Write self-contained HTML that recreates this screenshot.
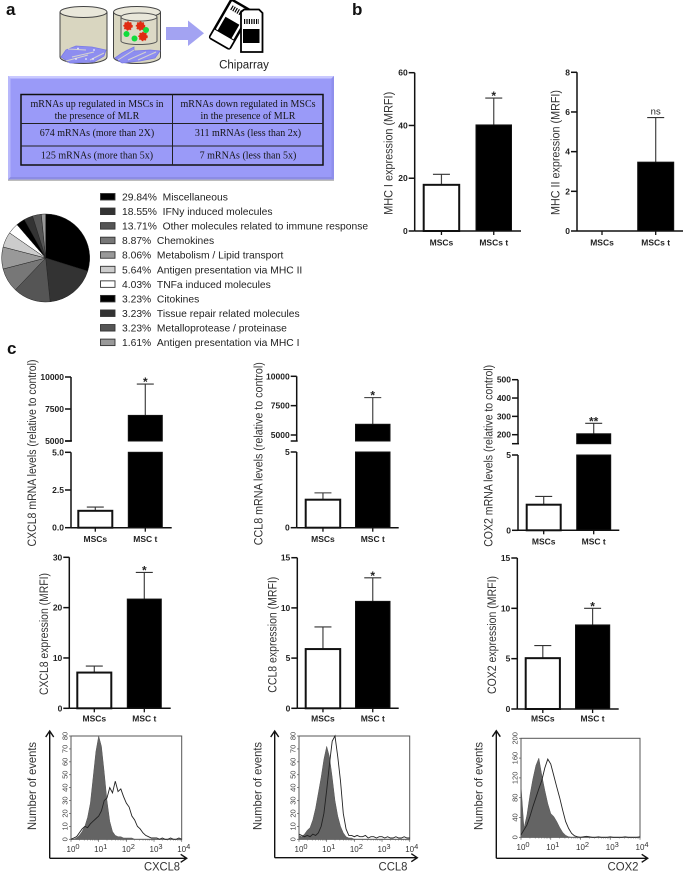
<!DOCTYPE html>
<html lang="en">
<head>
<meta charset="utf-8">
<title>MSC expression figure</title>
<style>
html,body{margin:0;padding:0;background:#fff;}
#figure{display:block;width:684px;height:873px;filter:blur(0.35px);font-family:"Liberation Sans",sans-serif;}
</style>
</head>
<body>
<svg id="figure" xmlns="http://www.w3.org/2000/svg" width="684" height="873" viewBox="0 0 684 873">
  <rect x="0" y="0" width="684" height="873" fill="#fff"/>
  <text x="6" y="15" font-size="17" font-weight="bold" fill="#111">a</text>
  <text x="352" y="15" font-size="17" font-weight="bold" fill="#111">b</text>
  <text x="7" y="354" font-size="17" font-weight="bold" fill="#111">c</text>

  <g>
    <path d="M60 12 V57 A23.5 6.5 0 0 0 107 57 V12 Z" fill="#d9d6c0" stroke="#444" stroke-width="1"/>
    <ellipse cx="83.5" cy="12" rx="23.5" ry="5.5" fill="#e9e7da" stroke="#444" stroke-width="1"/>
    <path d="M61 57 L66 50 L76 46 L92 47 L106 50 L104 56 L94 62 L70 63 Z" fill="#8d8df0" stroke="#7a7ae6" stroke-width="0.8"/>
    <path d="M68 49 L86 50 M72 57 L94 52 M66 61 L88 55 M90 60 L104 53" stroke="#d4d2d0" stroke-width="1"/>
    <circle cx="78" cy="48.500" r="0.900" fill="#eef"/>
    <circle cx="94" cy="50" r="0.900" fill="#eef"/>
    <circle cx="76" cy="59" r="0.900" fill="#eef"/>
    <circle cx="86" cy="59" r="0.900" fill="#eef"/>
    <circle cx="93" cy="59" r="0.900" fill="#eef"/>
  </g>
  <g>
    <path d="M113.5 12 V57 A23.5 6.5 0 0 0 160.5 57 V12 Z" fill="#d9d6c0" stroke="#444" stroke-width="1"/>
    <ellipse cx="137" cy="12" rx="23.5" ry="5.5" fill="#e9e7da" stroke="#444" stroke-width="1"/>
    <path d="M121 17 V41 A18 3.5 0 0 0 157 41 V17 Z" fill="#dcd9c6" stroke="#555" stroke-width="1"/>
    <ellipse cx="139" cy="17" rx="18" ry="4" fill="#e9e7da" stroke="#555" stroke-width="1"/>
    <path d="M115 58 L122 53 L134 47 L134 51 L150 50 L160 51 L155 58 L140 61 L122 63 Z" fill="#8d8df0" stroke="#7a7ae6" stroke-width="0.8"/>
    <path d="M118 60 L134 50 M128 60 L146 52 M138 60 L156 52" stroke="#d4d2d0" stroke-width="1"/>
    <circle cx="128" cy="26" r="4" fill="#e02c12" stroke="#e02c12" stroke-width="1.5" stroke-dasharray="1.5 1.5"/>
    <circle cx="140.500" cy="26" r="4" fill="#e02c12" stroke="#e02c12" stroke-width="1.5" stroke-dasharray="1.5 1.5"/>
    <circle cx="143" cy="36.500" r="4" fill="#e02c12" stroke="#e02c12" stroke-width="1.5" stroke-dasharray="1.5 1.500"/>
    <circle cx="126.500" cy="34" r="3" fill="#10dc3c"/>
    <circle cx="134.500" cy="38.500" r="3" fill="#10dc3c"/>
    <circle cx="146" cy="30" r="3" fill="#10dc3c"/>
  </g>
  <polygon points="166,27 188,27 188,20.500 204,33.300 188,46 188,40 166,40" fill="#a3a3f2"/>
  <g transform="rotate(30 230 24)">
    <rect x="219" y="2" width="23" height="44" rx="2" fill="#fff" stroke="#000" stroke-width="2.500"/>
    <rect x="222.500" y="20" width="16" height="16" fill="#000"/>
    <path d="M223 9 H238" stroke="#000" stroke-width="5" stroke-dasharray="1.200 1.200"/>
    <rect x="219" y="36" width="23" height="10" fill="#fff" stroke="#000" stroke-width="1"/>
  </g>
  <g>
    <path d="M241 12 L244 9.500 H259 L262.500 13 V52 H241 Z" fill="#fff" stroke="#000" stroke-width="1.800"/>
    <rect x="243" y="29" width="16.500" height="14" fill="#000"/>
    <path d="M244 21.500 H259" stroke="#000" stroke-width="5" stroke-dasharray="1.200 1.200"/>
  </g>
  <text x="244" y="68.500" font-size="11.500" text-anchor="middle" fill="#222">Chiparray</text>

  <g>
    <rect x="8" y="76" width="326" height="103.500" fill="#9a9af8"/>
    <polygon points="8,76 334,76 331.500,78.500 10.500,78.500" fill="#c9c9ff"/>
    <polygon points="8,76 10.500,78.500 10.500,177 8,179.500" fill="#b8b8fb"/>
    <polygon points="334,76 331.500,78.500 331.500,177 334,179.500" fill="#8f8fec"/>
    <polygon points="8,179.500 10.500,177 331.500,177 334,179.500" fill="#8c8ce4"/>
    <rect x="8" y="179.500" width="326" height="1.500" fill="#bdbdbd"/>
  </g>
  <g font-family="'Liberation Serif',serif" font-size="10" fill="#151515" text-anchor="middle">
    <rect x="21" y="94.500" width="302" height="70.500" fill="none" stroke="#111" stroke-width="1.500"/>
    <path d="M172.500 94.500 V165 M21 123.500 H323 M21 146 H323" stroke="#222" stroke-width="1" fill="none"/>
    <text x="97" y="106.800">mRNAs up regulated in MSCs in</text>
    <text x="97" y="118.800">the presence of MLR</text>
    <text x="248" y="106.800">mRNAs down regulated in MSCs</text>
    <text x="248" y="118.800">in the presence of MLR</text>
    <text x="97" y="135.800">674 mRNAs (more than 2X)</text>
    <text x="248" y="135.800">311 mRNAs (less than 2x)</text>
    <text x="97" y="158.500">125 mRNAs (more than 5x)</text>
    <text x="248" y="158.500">7 mRNAs (less than 5x)</text>
  </g>
  <g id="plots"></g>
</svg>

<script>
/* ---------- pie data ---------- */
const pieValues = [29.84, 18.55, 13.71, 8.87, 8.06, 5.64, 4.03, 3.23, 3.23, 3.23, 1.61];
const pieCategories = ["Miscellaneous", "IFNy induced molecules", "Other molecules related to immune response", "Chemokines", "Metabolism / Lipid transport", "Antigen presentation via MHC II", "TNFa induced molecules", "Citokines", "Tissue repair related molecules", "Metalloprotease / proteinase", "Antigen presentation via MHC I"];

/* ---------- bar chart data ---------- */
const mhc1Categories = ["MSCs", "MSCs t"];
const mhc1Means = [17.5, 40.2];
const mhc1Errors = [4, 10.2];
const mhc1Ticks = [0, 20, 40, 60];
const mhc1Marks = ["", "*"];

const mhc2Categories = ["MSCs", "MSCs t"];
const mhc2Means = [0, 3.47];
const mhc2Errors = [0, 2.25];
const mhc2Ticks = [0, 2, 4, 6, 8];
const mhc2Marks = ["", "ns"];

const cxcl8MrnaCategories = ["MSCs", "MSC t"];
const cxcl8MrnaMeans = [1.12, 7000];
const cxcl8MrnaErrors = [0.25, 2450];
const cxcl8MrnaLowerTicks = ["0.0", "2.5", "5.0"];
const cxcl8MrnaUpperTicks = [5000, 7500, 10000];
const cxcl8MrnaMarks = ["", "*"];

const ccl8MrnaCategories = ["MSCs", "MSC t"];
const ccl8MrnaMeans = [1.85, 5913];
const ccl8MrnaErrors = [0.45, 2270];
const ccl8MrnaLowerTicks = ["0", "5"];
const ccl8MrnaUpperTicks = [5000, 7500, 10000];
const ccl8MrnaMarks = ["", "*"];

const cox2MrnaCategories = ["MSCs", "MSC t"];
const cox2MrnaMeans = [1.7, 205];
const cox2MrnaErrors = [0.55, 57];
const cox2MrnaLowerTicks = ["0", "5"];
const cox2MrnaUpperTicks = [200, 300, 400, 500];
const cox2MrnaMarks = ["", "**"];

const cxcl8MfiCategories = ["MSCs", "MSC t"];
const cxcl8MfiMeans = [7.1, 21.7];
const cxcl8MfiErrors = [1.3, 5.3];
const cxcl8MfiTicks = [0, 10, 20, 30];
const cxcl8MfiMarks = ["", "*"];

const ccl8MfiCategories = ["MSCs", "MSC t"];
const ccl8MfiMeans = [5.9, 10.65];
const ccl8MfiErrors = [2.2, 2.35];
const ccl8MfiTicks = [0, 5, 10, 15];
const ccl8MfiMarks = ["", "*"];

const cox2MfiCategories = ["MSCs", "MSC t"];
const cox2MfiMeans = [5.05, 8.35];
const cox2MfiErrors = [1.25, 1.65];
const cox2MfiTicks = [0, 5, 10, 15];
const cox2MfiMarks = ["", "*"];

/* ---------- histogram data (log10 fluorescence vs events) ---------- */
const histBins = [0, 0.1, 0.2, 0.3, 0.4, 0.5, 0.6, 0.7, 0.8, 0.9, 1.0, 1.1, 1.2, 1.3, 1.4, 1.5, 1.6, 1.7, 1.8, 1.9, 2.0, 2.1, 2.2, 2.3, 2.4, 2.5, 2.6, 2.7, 2.8, 2.9, 3.0, 3.1, 3.2, 3.3, 3.4, 3.5, 3.6, 3.7, 3.8, 3.9, 4.0];
const histDecades = [0, 1, 2, 3, 4];
const cxcl8HistControl = [0, 0, 1, 3, 6, 10, 17, 28, 48, 68, 80, 72, 52, 30, 14, 6, 3, 2, 2, 1, 1, 1, 1, 0, 0, 0, 0, 0, 0, 0, 0, 0, 0, 0, 0, 0, 0, 0, 0, 0, 0];
const cxcl8HistTreated = [0, 1, 2, 5, 8, 10, 9, 12, 14, 16, 18, 22, 30, 32, 40, 36, 45, 37, 39, 33, 28, 25, 18, 15, 10, 8, 5, 3, 2, 1, 1, 1, 0, 1, 0, 0, 1, 0, 0, 1, 0];
const cxcl8HistTicks = [0, 10, 20, 30, 40, 50, 60, 70, 80];
const ccl8HistControl = [3, 2, 4, 7, 9, 15, 24, 36, 48, 62, 72, 64, 48, 30, 18, 10, 5, 2, 1, 1, 0, 0, 0, 0, 0, 0, 0, 0, 0, 0, 0, 0, 0, 0, 0, 0, 0, 0, 0, 0, 0];
const ccl8HistTreated = [4, 3, 2, 3, 2, 4, 3, 5, 10, 20, 38, 58, 76, 80, 64, 45, 20, 8, 3, 3, 2, 3, 2, 2, 3, 1, 2, 2, 1, 2, 2, 1, 2, 1, 1, 2, 1, 1, 2, 1, 1];
const ccl8HistTicks = [0, 10, 20, 30, 40, 50, 60, 70, 80];
const cox2HistControl = [105, 18, 45, 85, 118, 145, 160, 125, 95, 68, 48, 42, 32, 20, 10, 4, 1, 0, 0, 0, 0, 0, 0, 0, 0, 0, 0, 0, 0, 0, 0, 0, 0, 0, 0, 0, 0, 0, 0, 0, 0];
const cox2HistTreated = [5, 15, 25, 42, 62, 80, 98, 115, 140, 158, 148, 125, 102, 80, 55, 32, 18, 8, 3, 1, 0, 1, 2, 1, 0, 0, 1, 0, 0, 0, 1, 0, 0, 0, 0, 1, 0, 0, 0, 0, 1];
const cox2HistTicks = [0, 40, 80, 120, 160, 200];

/* ---------- drawing helpers ---------- */
const NS = "http://www.w3.org/2000/svg";
const root = document.getElementById("plots");
function make(tag, attrs, parent, text) {
  const node = document.createElementNS(NS, tag);
  for (const k in attrs) node.setAttribute(k, attrs[k]);
  if (text !== undefined) node.textContent = text;
  (parent || root).appendChild(node);
  return node;
}
function linearScale(d0, d1, r0, r1) {
  return function (v) { return r0 + (v - d0) / (d1 - d0) * (r1 - r0); };
}
function yTitle(text, x, cy, len, parent) {
  const t = make("text", {transform: "translate(" + x + " " + cy + ") rotate(-90)", "text-anchor": "middle", "font-size": 11.5, fill: "#333", textLength: len, lengthAdjust: "spacingAndGlyphs", y: 4}, parent, text);
  
  
}
function yTick(g, axisX, y, label) {
  const l = make("line", {x1: axisX - 6, x2: axisX, y1: y, y2: y, stroke: "#111", "stroke-width": 1.5}, g);
  
  
  const t = make("text", {x: axisX - 7, y: y + 3, "text-anchor": "end", "font-size": 8.5, "font-weight": "bold", fill: "#222"}, g, label);
  
  
}
function barFrame(g, L, categories) {
  const axisLine = make("line", {x1: L.axisX, x2: L.axisEnd, y1: L.y0, y2: L.y0, stroke: "#111", "stroke-width": 1.5}, g);
  
  
  categories.forEach(function (c, i) {
    const cx = L.barX[i] + L.barW / 2;
    const tk = make("line", {x1: cx, x2: cx, y1: L.y0, y2: L.y0 + 4, stroke: "#111", "stroke-width": 1.3}, g);
    
    
    const t = make("text", {x: cx, y: L.labelY, "text-anchor": "middle", "font-size": 8.5, "font-weight": "bold", fill: "#222"}, g, c);
    
    
  });
}
function drawBar(g, L, i, yTop, yBottom) {
  const r = make("rect", {x: L.barX[i], y: yTop, width: L.barW, height: Math.max(0, yBottom - yTop), fill: i === 0 ? "#fff" : "#000", stroke: "#111", "stroke-width": i === 0 ? 2 : 1}, g);
  
  
}
function drawError(g, L, i, yMean, yErr, mark) {
  const cx = L.barX[i] + L.barW / 2;
  const stem = make("line", {x1: cx, x2: cx, y1: yMean, y2: yErr, stroke: "#444", "stroke-width": 1.2}, g);
  
  
  const cap = make("line", {x1: cx - 8.5, x2: cx + 8.5, y1: yErr, y2: yErr, stroke: "#333", "stroke-width": 1.1}, g);
  
  
  if (mark) {
    const isStar = mark.charAt(0) === "*";
    const t = make("text", {x: cx, y: isStar ? yErr + 2 : yErr - 3, "text-anchor": "middle", "font-size": isStar ? 12 : 9.5, "font-weight": isStar ? "bold" : "normal", fill: "#222"}, g, mark);
    
    
  }
}
function simpleBarChart(name, categories, means, errors, ticks, marks, L) {
  const g = make("g", {});
  
  
  const y = linearScale(ticks[0], ticks[ticks.length - 1], L.y0, L.yTop);
  means.forEach(function (m, i) {
    if (m > 0) {
      drawError(g, L, i, y(m), y(m + errors[i]), marks[i]);
      drawBar(g, L, i, y(m), L.y0);
    }
  });
  const axis = make("line", {x1: L.axisX, x2: L.axisX, y1: L.yTop, y2: L.y0, stroke: "#111", "stroke-width": 1.5}, g);
  
  
  ticks.forEach(function (v) { yTick(g, L.axisX, y(v), String(v)); });
  barFrame(g, L, categories);
  yTitle(L.title, L.titleX, L.titleCy, L.titleLen, g);
}
function brokenBarChart(name, categories, means, errors, lowerTicks, upperTicks, marks, L) {
  const g = make("g", {});
  
  
  const lowMax = parseFloat(lowerTicks[lowerTicks.length - 1]);
  const yLow = linearScale(0, lowMax, L.y0, L.lowTop);
  const yUp = linearScale(upperTicks[0], upperTicks[upperTicks.length - 1], L.upBaseTick, L.yTop);
  means.forEach(function (m, i) {
    if (m <= lowMax) {
      drawError(g, L, i, yLow(m), yLow(m + errors[i]), marks[i]);
      drawBar(g, L, i, yLow(m), L.y0);
    } else {
      drawError(g, L, i, yUp(m), yUp(m + errors[i]), marks[i]);
      drawBar(g, L, i, yLow(lowMax), L.y0);
      drawBar(g, L, i, yUp(m), L.upBottom);
    }
  });
  const a1 = make("line", {x1: L.axisX, x2: L.axisX, y1: L.yTop, y2: L.upBottom, stroke: "#111", "stroke-width": 1.5}, g);
  
  
  const a2 = make("line", {x1: L.axisX, x2: L.axisX, y1: L.lowTop, y2: L.y0, stroke: "#111", "stroke-width": 1.5}, g);
  
  
  const brk = make("line", {x1: L.axisX - 6, x2: L.axisX + 1, y1: L.upBottom, y2: L.upBottom, stroke: "#111", "stroke-width": 1.5}, g);
  
  
  upperTicks.forEach(function (v) { yTick(g, L.axisX, yUp(v), String(v)); });
  lowerTicks.forEach(function (v) { yTick(g, L.axisX, yLow(parseFloat(v)), v); });
  barFrame(g, L, categories);
  yTitle(L.title, L.titleX, L.titleCy, L.titleLen, g);
}
function histogram(name, control, treated, ticks, L) {
  const g = make("g", {});
  
  
  const x = linearScale(0, 4, L.left, L.right);
  const y = linearScale(0, ticks[ticks.length - 1], L.bottom, L.top);
  const frame = make("rect", {x: L.left, y: L.top, width: L.right - L.left, height: L.bottom - L.top, fill: "#fff", stroke: "#555", "stroke-width": 1}, g);
  
  
  let fillPts = x(histBins[0]) + "," + L.bottom;
  control.forEach(function (v, i) { fillPts += " " + x(histBins[i]) + "," + y(v); });
  fillPts += " " + x(histBins[histBins.length - 1]) + "," + L.bottom;
  const area = make("polygon", {points: fillPts, fill: "#646464", stroke: "#555", "stroke-width": 0.5}, g);
  
  
  const linePts = treated.map(function (v, i) { return x(histBins[i]) + "," + y(v); }).join(" ");
  const line = make("polyline", {points: linePts, fill: "none", stroke: "#222", "stroke-width": 0.9}, g);
  
  
  ticks.forEach(function (v) {
    const tk = make("line", {x1: L.left - 2, x2: L.left, y1: y(v), y2: y(v), stroke: "#555", "stroke-width": 0.7}, g);
    
    
    const t = make("text", {transform: "translate(" + (L.left - 3.5) + " " + y(v) + ") rotate(-90)", "text-anchor": "middle", "font-size": 7.5, fill: "#444"}, g, String(v));
    
    
  });
  histDecades.forEach(function (d) {
    const tk = make("line", {x1: x(d), x2: x(d), y1: L.bottom, y2: L.bottom + 2.5, stroke: "#555", "stroke-width": 0.7}, g);
    
    
    if (d < 4) {
      [2, 3, 4, 5, 6, 7, 8, 9].forEach(function (n) {
        const mx = x(d + Math.log10(n));
        const minor = make("line", {x1: mx, x2: mx, y1: L.bottom, y2: L.bottom + 1.3, stroke: "#666", "stroke-width": 0.5}, g);
        
        
      });
    }
    const t = make("text", {x: x(d) - 4.5, y: L.bottom + 12.5, "font-size": 8, fill: "#333"}, g, "10");
    
    
    const tsp = make("tspan", {dy: -3, "font-size": 7.5}, t, String(d));
    
    
  });
  const arrows = make("path", {d: "M" + L.arrowX + " " + L.arrowY + " V" + L.arrowTop + " M" + (L.arrowX - 4) + " " + (L.arrowTop + 6) + " L" + L.arrowX + " " + L.arrowTop + " L" + (L.arrowX + 4) + " " + (L.arrowTop + 6) + " M" + L.arrowX + " " + L.arrowY + " H" + L.arrowEnd + " M" + (L.arrowEnd - 6) + " " + (L.arrowY - 4) + " L" + L.arrowEnd + " " + L.arrowY + " L" + (L.arrowEnd - 6) + " " + (L.arrowY + 4), fill: "none", stroke: "#111", "stroke-width": 1.4}, g);
  
  
  const yt = make("text", {transform: "translate(" + L.titleX + " 786) rotate(-90)", "text-anchor": "middle", "font-size": 12, fill: "#333", textLength: 88, lengthAdjust: "spacingAndGlyphs", y: 4}, g, "Number of events");
  
  
  const xt = make("text", {x: L.xTitleX, y: 870.5, "text-anchor": "middle", "font-size": 12, fill: "#333", textLength: L.xTitleLen, lengthAdjust: "spacingAndGlyphs"}, g, L.xTitle);
  
  
}

/* ---------- pie + legend ---------- */
const sliceFills = ["#000", "#333", "#555", "#777", "#999", "#ccc", "#fff", "#000", "#333", "#555", "#999"];
(function drawPie() {
  const g = make("g", {});
  
  
  const total = pieValues.reduce(function (a, b) { return a + b; }, 0);
  const cx = 45.7, cy = 258, r = 44;
  let acc = 0;
  pieValues.forEach(function (v, i) {
    const a0 = acc / total * 2 * Math.PI;
    acc += v;
    const a1 = acc / total * 2 * Math.PI;
    const d = "M" + cx + " " + cy + " L" + (cx + r * Math.sin(a0)) + " " + (cy - r * Math.cos(a0)) + " A" + r + " " + r + " 0 " + (a1 - a0 > Math.PI ? 1 : 0) + " 1 " + (cx + r * Math.sin(a1)) + " " + (cy - r * Math.cos(a1)) + " Z";
    const s = make("path", {d: d, fill: sliceFills[i], stroke: "#222", "stroke-width": 0.5}, g);
    
    
  });
  const lg = make("g", {});
  
  
  pieValues.forEach(function (v, i) {
    const y = 196.7 + i * 14.56;
    const sw = make("rect", {x: 100.5, y: y - 3.2, width: 14.5, height: 6.5, fill: sliceFills[i], stroke: "#333", "stroke-width": 0.9}, lg);
    
    
    const t = make("text", {x: 122, y: y + 3.8, "font-size": 10.3, fill: "#222", "xml:space": "preserve"}, lg, v.toFixed(2) + "%\u00A0\u00A0" + pieCategories[i]);
    
    
  });
})();

/* ---------- charts ---------- */
simpleBarChart("mhc1-chart", mhc1Categories, mhc1Means, mhc1Errors, mhc1Ticks, mhc1Marks, {axisX: 414.7, axisEnd: 521, y0: 231, yTop: 72.7, barX: [423.7, 476], barW: 35.5, labelY: 245.5, title: "MHC I expression (MRFI)", titleX: 388.7, titleCy: 153.3, titleLen: 123});
simpleBarChart("mhc2-chart", mhc2Categories, mhc2Means, mhc2Errors, mhc2Ticks, mhc2Marks, {axisX: 577, axisEnd: 683, y0: 231, yTop: 72.3, barX: [584, 637.7], barW: 36, labelY: 245.5, title: "MHC II expression (MRFI)", titleX: 555.3, titleCy: 152.5, titleLen: 125});

brokenBarChart("cxcl8-mrna-chart", cxcl8MrnaCategories, cxcl8MrnaMeans, cxcl8MrnaErrors, cxcl8MrnaLowerTicks, cxcl8MrnaUpperTicks, cxcl8MrnaMarks, {axisX: 71, axisEnd: 171.7, y0: 527.7, lowTop: 452.3, yTop: 377, upBaseTick: 441, upBottom: 441, barX: [78.3, 128.3], barW: 34, labelY: 542, title: "CXCL8 mRNA levels (relative to control)", titleX: 32, titleCy: 453, titleLen: 187});
brokenBarChart("ccl8-mrna-chart", ccl8MrnaCategories, ccl8MrnaMeans, ccl8MrnaErrors, ccl8MrnaLowerTicks, ccl8MrnaUpperTicks, ccl8MrnaMarks, {axisX: 296.7, axisEnd: 398.7, y0: 527.7, lowTop: 452, yTop: 376.3, upBaseTick: 435, upBottom: 441, barX: [305.7, 355.5], barW: 34.5, labelY: 542, title: "CCL8 mRNA levels (relative to control)", titleX: 258.3, titleCy: 453.7, titleLen: 183});
brokenBarChart("cox2-mrna-chart", cox2MrnaCategories, cox2MrnaMeans, cox2MrnaErrors, cox2MrnaLowerTicks, cox2MrnaUpperTicks, cox2MrnaMarks, {axisX: 518, axisEnd: 619.3, y0: 530.3, lowTop: 455, yTop: 379.7, upBaseTick: 434.7, upBottom: 443.7, barX: [526.7, 576.7], barW: 34, labelY: 544.5, title: "COX2 mRNA levels (relative to control)", titleX: 488.7, titleCy: 455.8, titleLen: 182});

simpleBarChart("cxcl8-mfi-chart", cxcl8MfiCategories, cxcl8MfiMeans, cxcl8MfiErrors, cxcl8MfiTicks, cxcl8MfiMarks, {axisX: 69.3, axisEnd: 170.7, y0: 708.3, yTop: 557.3, barX: [77.3, 127.3], barW: 34, labelY: 721.5, title: "CXCL8 expression (MRFI)", titleX: 44, titleCy: 634, titleLen: 122});
simpleBarChart("ccl8-mfi-chart", ccl8MfiCategories, ccl8MfiMeans, ccl8MfiErrors, ccl8MfiTicks, ccl8MfiMarks, {axisX: 297.3, axisEnd: 398.7, y0: 708.3, yTop: 557.7, barX: [305.7, 355.5], barW: 34.5, labelY: 721.5, title: "CCL8 expression (MRFI)", titleX: 272.7, titleCy: 634.7, titleLen: 116});
simpleBarChart("cox2-mfi-chart", cox2MfiCategories, cox2MfiMeans, cox2MfiErrors, cox2MfiTicks, cox2MfiMarks, {axisX: 517.3, axisEnd: 618.7, y0: 709, yTop: 558, barX: [525.7, 575.5], barW: 34.2, labelY: 721.5, title: "COX2 expression (MRFI)", titleX: 492, titleCy: 635, titleLen: 118});

histogram("cxcl8-histogram", cxcl8HistControl, cxcl8HistTreated, cxcl8HistTicks, {left: 71, right: 181.7, top: 736, bottom: 839.3, arrowX: 49.7, arrowY: 858.3, arrowTop: 731, arrowEnd: 186.7, titleX: 32, xTitle: "CXCL8", xTitleX: 162, xTitleLen: 36});
histogram("ccl8-histogram", ccl8HistControl, ccl8HistTreated, ccl8HistTicks, {left: 299, right: 409.7, top: 736, bottom: 839.3, arrowX: 274.7, arrowY: 857.7, arrowTop: 731, arrowEnd: 417.3, titleX: 257.3, xTitle: "CCL8", xTitleX: 393, xTitleLen: 29});
histogram("cox2-histogram", cox2HistControl, cox2HistTreated, cox2HistTicks, {left: 521, right: 640, top: 738.3, bottom: 837.3, arrowX: 496.3, arrowY: 858.3, arrowTop: 730.7, arrowEnd: 647.7, titleX: 478.7, xTitle: "COX2", xTitleX: 623, xTitleLen: 31});
</script>
</body>
</html>
